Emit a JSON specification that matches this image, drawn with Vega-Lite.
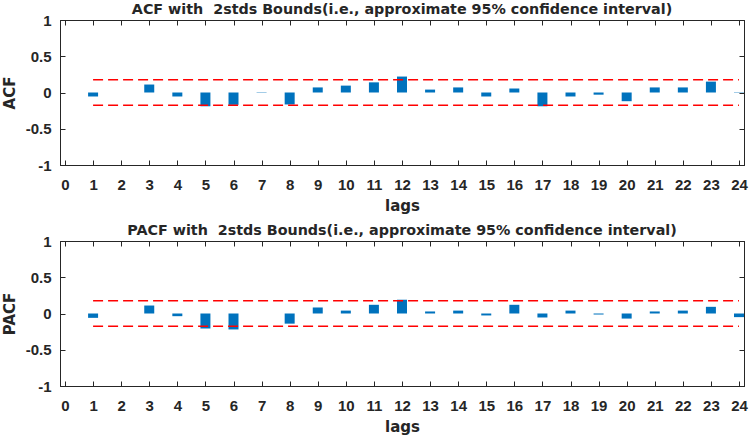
{
  "$schema": "https://vega.github.io/schema/vega-lite/v6.json",
  "padding": {"left": 1, "top": 2, "right": 2, "bottom": 0},
  "spacing": 9,
  "datasets": {
    "acf": [
      {"lag": 1, "v": -0.055}, {"lag": 2, "v": 0.0}, {"lag": 3, "v": 0.11}, {"lag": 4, "v": -0.055},
      {"lag": 5, "v": -0.19}, {"lag": 6, "v": -0.17}, {"lag": 7, "v": 0.005}, {"lag": 8, "v": -0.165},
      {"lag": 9, "v": 0.07}, {"lag": 10, "v": 0.095}, {"lag": 11, "v": 0.14}, {"lag": 12, "v": 0.22},
      {"lag": 13, "v": 0.04}, {"lag": 14, "v": 0.07}, {"lag": 15, "v": -0.055}, {"lag": 16, "v": 0.055},
      {"lag": 17, "v": -0.19}, {"lag": 18, "v": -0.055}, {"lag": 19, "v": -0.03}, {"lag": 20, "v": -0.12},
      {"lag": 21, "v": 0.07}, {"lag": 22, "v": 0.07}, {"lag": 23, "v": 0.15}, {"lag": 24, "v": 0.005}
    ],
    "pacf": [
      {"lag": 1, "v": -0.06}, {"lag": 2, "v": 0.0}, {"lag": 3, "v": 0.11}, {"lag": 4, "v": -0.037},
      {"lag": 5, "v": -0.207}, {"lag": 6, "v": -0.22}, {"lag": 7, "v": 0.0}, {"lag": 8, "v": -0.14},
      {"lag": 9, "v": 0.083}, {"lag": 10, "v": 0.04}, {"lag": 11, "v": 0.12}, {"lag": 12, "v": 0.19},
      {"lag": 13, "v": 0.028}, {"lag": 14, "v": 0.04}, {"lag": 15, "v": -0.027}, {"lag": 16, "v": 0.12},
      {"lag": 17, "v": -0.055}, {"lag": 18, "v": 0.04}, {"lag": 19, "v": -0.014}, {"lag": 20, "v": -0.07},
      {"lag": 21, "v": 0.028}, {"lag": 22, "v": 0.04}, {"lag": 23, "v": 0.092}, {"lag": 24, "v": -0.05}
    ],
    "bounds": [{"b": 0.175}, {"b": -0.175}]
  },
  "config": {
    "font": "Liberation Sans",
    "view": {"stroke": "#262626", "strokeWidth": 1},
    "axis": {
      "labelFont": "Liberation Sans", "labelFontWeight": "bold", "labelFontSize": 15, "labelColor": "#262626",
      "titleFont": "DejaVu Sans", "titleFontWeight": "bold", "titleFontSize": 15, "titleColor": "#262626",
      "grid": false, "domainColor": "#262626", "tickColor": "#262626", "tickSize": -5, "tickWidth": 1, "labelPadding": 14
    },
    "axisBottom": {"labelPadding": 17},
    "title": {"font": "DejaVu Sans", "fontSize": 14.3, "fontWeight": "bold", "color": "#262626", "offset": -4}
  },
  "vconcat": [
    {
      "width": 684, "height": 145,
      "title": {"text": "ACF with\u00a0 2stds Bounds(i.e., approximate 95% confidence interval)"},
      "resolve": {"axis": {"x": "independent", "y": "independent"}},
      "layer": [
        {
          "data": {"name": "acf"},
          "mark": {"type": "bar", "color": "#0072BD", "width": 10, "orient": "vertical"},
          "encoding": {
            "x": {"field": "lag", "type": "quantitative", "scale": {"domain": [0, 24], "nice": false},
                  "axis": {"orient": "bottom", "values": [0,1,2,3,4,5,6,7,8,9,10,11,12,13,14,15,16,17,18,19,20,21,22,23,24], "title": "lags", "titlePadding": 6}},
            "y": {"field": "v", "type": "quantitative", "scale": {"domain": [-1, 1], "nice": false},
                  "axis": {"orient": "left", "values": [-1, -0.5, 0, 0.5, 1], "labelExpr": "'' + datum.value", "title": "ACF", "titlePadding": 8}},
            "y2": {"datum": 0}
          }
        },
        {
          "mark": {"type": "rule", "color": "#000000", "strokeWidth": 1},
          "encoding": {"y": {"datum": 0, "type": "quantitative", "axis": null}}
        },
        {
          "data": {"name": "bounds"},
          "mark": {"type": "rule", "color": "#FF0000", "strokeWidth": 1.5, "strokeDash": [10, 5]},
          "encoding": {"x": {"datum": 1, "type": "quantitative", "axis": null}, "x2": {"datum": 24}, "y": {"field": "b", "type": "quantitative", "axis": null}}
        },
        {
          "mark": {"type": "point", "opacity": 0},
          "encoding": {
            "x": {"datum": 0, "type": "quantitative", "axis": {"orient": "top", "labels": false, "title": null, "minExtent": 0, "maxExtent": 0, "values": [0,1,2,3,4,5,6,7,8,9,10,11,12,13,14,15,16,17,18,19,20,21,22,23,24]}},
            "y": {"datum": 0, "type": "quantitative", "axis": {"orient": "right", "labels": false, "title": null, "minExtent": 0, "maxExtent": 0, "values": [-1, -0.5, 0, 0.5, 1]}}
          }
        }
      ]
    },
    {
      "width": 684, "height": 145,
      "title": {"text": "PACF with\u00a0 2stds Bounds(i.e., approximate 95% confidence interval)"},
      "resolve": {"axis": {"x": "independent", "y": "independent"}},
      "layer": [
        {
          "data": {"name": "pacf"},
          "mark": {"type": "bar", "color": "#0072BD", "width": 10, "orient": "vertical"},
          "encoding": {
            "x": {"field": "lag", "type": "quantitative", "scale": {"domain": [0, 24], "nice": false},
                  "axis": {"orient": "bottom", "values": [0,1,2,3,4,5,6,7,8,9,10,11,12,13,14,15,16,17,18,19,20,21,22,23,24], "title": "lags", "titlePadding": 6}},
            "y": {"field": "v", "type": "quantitative", "scale": {"domain": [-1, 1], "nice": false},
                  "axis": {"orient": "left", "values": [-1, -0.5, 0, 0.5, 1], "labelExpr": "'' + datum.value", "title": "PACF", "titlePadding": 8}},
            "y2": {"datum": 0}
          }
        },
        {
          "mark": {"type": "rule", "color": "#000000", "strokeWidth": 1},
          "encoding": {"y": {"datum": 0, "type": "quantitative", "axis": null}}
        },
        {
          "data": {"name": "bounds"},
          "mark": {"type": "rule", "color": "#FF0000", "strokeWidth": 1.5, "strokeDash": [10, 5]},
          "encoding": {"x": {"datum": 1, "type": "quantitative", "axis": null}, "x2": {"datum": 24}, "y": {"field": "b", "type": "quantitative", "axis": null}}
        },
        {
          "mark": {"type": "point", "opacity": 0},
          "encoding": {
            "x": {"datum": 0, "type": "quantitative", "axis": {"orient": "top", "labels": false, "title": null, "minExtent": 0, "maxExtent": 0, "values": [0,1,2,3,4,5,6,7,8,9,10,11,12,13,14,15,16,17,18,19,20,21,22,23,24]}},
            "y": {"datum": 0, "type": "quantitative", "axis": {"orient": "right", "labels": false, "title": null, "minExtent": 0, "maxExtent": 0, "values": [-1, -0.5, 0, 0.5, 1]}}
          }
        }
      ]
    }
  ]
}
